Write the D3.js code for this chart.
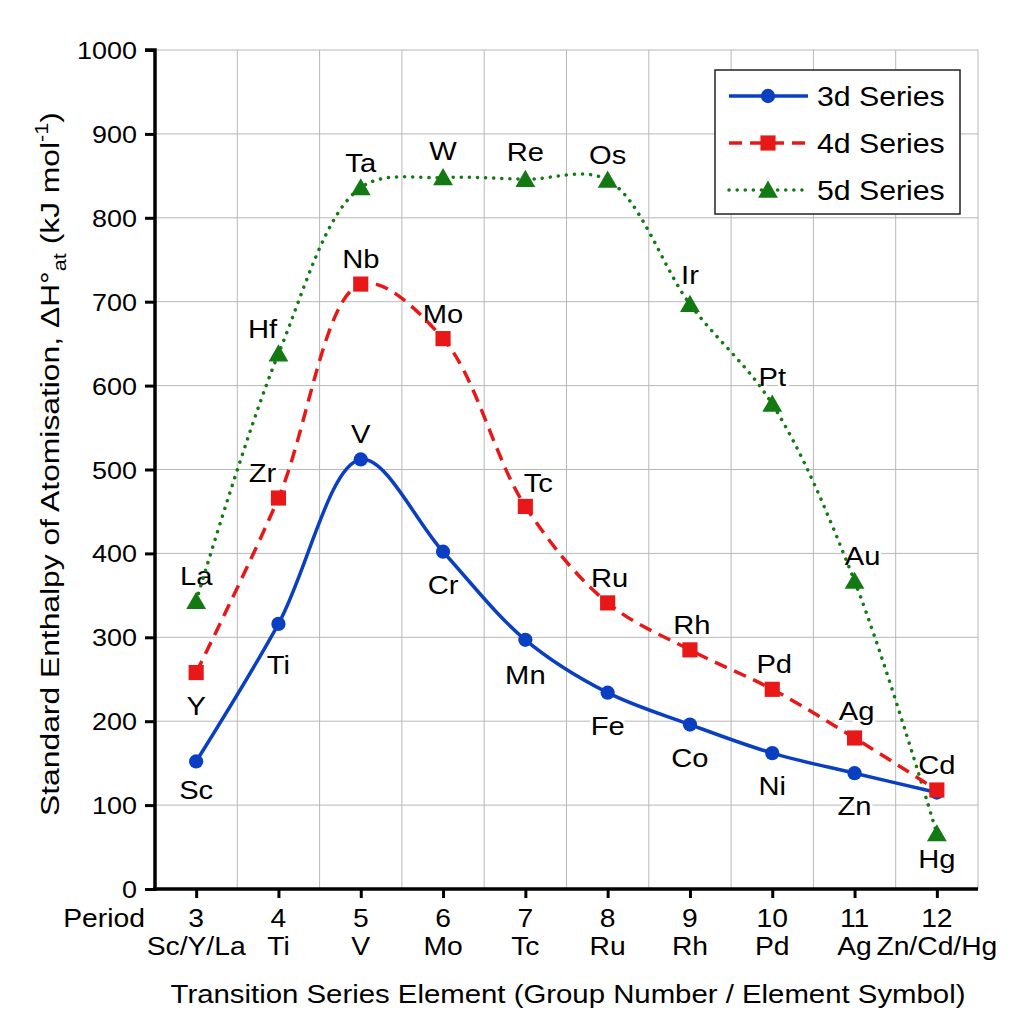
<!DOCTYPE html>
<html>
<head>
<meta charset="utf-8">
<script src="https://cdn.jsdelivr.net/npm/d3@7"></script>
<style>
  body { margin: 0; background: #fff; }
  text { font-family: "Liberation Sans", Arial, sans-serif; fill: #000; }
</style>
</head>
<body>
<svg class="chart" width="1024" height="1024"></svg>
<script>
// group numbers and column labels
const groups = [3, 4, 5, 6, 7, 8, 9, 10, 11, 12];
const groupSymbols = ['Sc/Y/La', 'Ti', 'V', 'Mo', 'Tc', 'Ru', 'Rh', 'Pd', 'Ag', 'Zn/Cd/Hg'];
const yTicks = [0, 100, 200, 300, 400, 500, 600, 700, 800, 900, 1000];

// 3d series
const names3d = ['Sc', 'Ti', 'V', 'Cr', 'Mn', 'Fe', 'Co', 'Ni', 'Zn', ''];
const values3d = [152, 316, 512, 402, 297, 234, 196, 162, 138, 115];
// 4d series
const names4d = ['Y', 'Zr', 'Nb', 'Mo', 'Tc', 'Ru', 'Rh', 'Pd', 'Ag', 'Cd'];
const values4d = [258, 466, 721, 656, 456, 341, 285, 238, 180, 118];
// 5d series
const names5d = ['La', 'Hf', 'Ta', 'W', 'Re', 'Os', 'Ir', 'Pt', 'Au', 'Hg'];
const values5d = [343, 638, 836, 848, 846, 845, 697, 578, 367, 66];

// label offsets (dx, dy) relative to the point
const off3d = [[0,38],[0,50],[0,-16],[0,42],[0,44],[0,42],[0,42],[0,42],[0,42],[0,0]];
const off4d = [[0,42],[-16,-16],[0,-16],[0,-16],[13,-14],[2,-16],[2,-16],[2,-16],[2,-18],[0,-16]];
const off5d = [[0,-16],[-16,-16],[0,-16],[0,-18],[0,-18],[0,-16],[0,-20],[0,-18],[8,-16],[0,34]];

const SX = 1.1; // the reference lettering is a bit wider than Arial
const svg = d3.select('.chart');
const margin = { top: 50, right: 46, bottom: 135, left: 155 };
const width = 1024, height = 1024;

const x = d3.scaleLinear().domain([2.5, 12.5]).range([margin.left, width - margin.right]);
const y = d3.scaleLinear().domain([0, 1000]).range([height - margin.bottom, margin.top]);

function stext(sel, px, py, str, size, anchor) {
  return sel.append('text')
    .attr('transform', `translate(${px},${py}) scale(${SX},1)`)
    .attr('text-anchor', anchor || 'middle')
    .style('font-size', size + 'px')
    .text(str);
}

// grid
const grid = svg.append('g').attr('stroke', '#b8b8b8').attr('stroke-width', 1);
grid.selectAll('.h').data(yTicks.filter(d => d > 0)).join('line')
  .attr('x1', x(2.5)).attr('x2', x(12.5)).attr('y1', d => y(d)).attr('y2', d => y(d));
grid.selectAll('.v').data(groups.map(g => g + 0.5)).join('line')
  .attr('x1', d => x(d)).attr('x2', d => x(d)).attr('y1', y(0)).attr('y2', y(1000));

// axes
const yAxis = svg.append('g')
  .attr('transform', `translate(${x(2.5)},0)`)
  .call(d3.axisLeft(y).tickValues(yTicks).tickSize(10).tickFormat(''));
const xAxis = svg.append('g')
  .attr('transform', `translate(0,${y(0)})`)
  .call(d3.axisBottom(x).tickValues(groups).tickSize(9).tickFormat(''));
[yAxis, xAxis].forEach(a => {
  a.selectAll('path, line').attr('stroke', '#000').attr('stroke-width', 3);
  a.select('.domain').attr('stroke-width', 3.5);
});
xAxis.select('.domain').attr('d', `M${x(2.5) - 2},0H${x(12.5)}`);
yAxis.select('.domain').attr('d', `M-10,${y(1000)}H0V${y(0) + 2}`);

// y tick labels
yTicks.forEach(t => stext(svg, x(2.5) - 18, y(t) + 9, t, 24.5, 'end'));

// x tick labels (two rows)
stext(svg, 104, 927, 'Period', 25.7);
groups.forEach((g, i) => {
  stext(svg, x(g), 927, g, 25.7);
  stext(svg, x(g), 955, groupSymbols[i], 25.7);
});

// axis titles
stext(svg, 568, 1003, 'Transition Series Element (Group Number / Element Symbol)', 26.7);
const yt = svg.append('text').attr('transform', 'translate(59,464) rotate(-90) scale(1.2,1)')
  .attr('text-anchor', 'middle').style('font-size', '26.5px');
yt.append('tspan').text('Standard Enthalpy of Atomisation, \u0394H\u00B0');
yt.append('tspan').attr('dy', 7).style('font-size', '18px').text('at');
yt.append('tspan').attr('dy', -7).text(' (kJ mol');
yt.append('tspan').attr('dy', -11).style('font-size', '18px').text('-1');
yt.append('tspan').attr('dy', 11).text(')');

const series = [
  { values: values3d, names: names3d, off: off3d, color: '#0a3fc2', dash: null, cap: 'butt', marker: 'circle' },
  { values: values4d, names: names4d, off: off4d, color: '#e81818', dash: '13,8', cap: 'butt', marker: 'square' },
  { values: values5d, names: names5d, off: off5d, color: '#137a13', dash: '0.1,8', cap: 'round', marker: 'triangle' }
];

const line = d3.line().x((d, i) => x(groups[i])).y(d => y(d)).curve(d3.curveCatmullRom.alpha(0.5));
const symbolOf = { circle: d3.symbolCircle, square: d3.symbolSquare, triangle: d3.symbolTriangle };
const sizeOf = { circle: 160, square: 230, triangle: 170 };

function drawMarker(sel, s) {
  sel.append('path')
    .attr('d', d3.symbol().type(symbolOf[s.marker]).size(sizeOf[s.marker])())
    .attr('fill', s.color);
}

// labels (drawn under lines with white halo)
const labels = svg.append('g');
series.forEach(s => {
  s.names.forEach((n, i) => {
    if (!n) return;
    stext(labels, x(groups[i]) + s.off[i][0], y(s.values[i]) + s.off[i][1], n, 26.5)
      .attr('stroke', '#fff').attr('stroke-width', 5).attr('paint-order', 'stroke');
  });
});

// lines and markers: 5d first, then 3d, then 4d on top
[series[2], series[0], series[1]].forEach(s => {
  svg.append('path').datum(s.values)
    .attr('d', line).attr('fill', 'none')
    .attr('stroke', s.color).attr('stroke-width', 3.5)
    .attr('stroke-dasharray', s.dash).attr('stroke-linecap', s.cap);
  s.values.forEach((v, i) => {
    const m = svg.append('g').attr('transform', `translate(${x(groups[i])},${y(v) + (s.marker === 'triangle' ? 2 : 0)})`);
    drawMarker(m, s);
  });
});

// legend
const lg = svg.append('g').attr('transform', 'translate(715,70)');
lg.append('rect').attr('width', 245).attr('height', 144).attr('fill', '#fff')
  .attr('stroke', '#222').attr('stroke-width', 1.5);
const legendNames = ['3d Series', '4d Series', '5d Series'];
series.forEach((s, i) => {
  const row = lg.append('g').attr('transform', `translate(0,${26 + i * 47})`);
  row.append('line').attr('x1', 14).attr('x2', 93).attr('y1', 0).attr('y2', 0)
    .attr('stroke', s.color).attr('stroke-width', 3.5)
    .attr('stroke-dasharray', s.dash).attr('stroke-linecap', s.cap);
  const m = row.append('g').attr('transform', `translate(53,${s.marker === 'triangle' ? 2 : 0})`);
  drawMarker(m, s);
  stext(row, 102, 10, legendNames[i], 27.5, 'start');
});
</script>
</body>
</html>
